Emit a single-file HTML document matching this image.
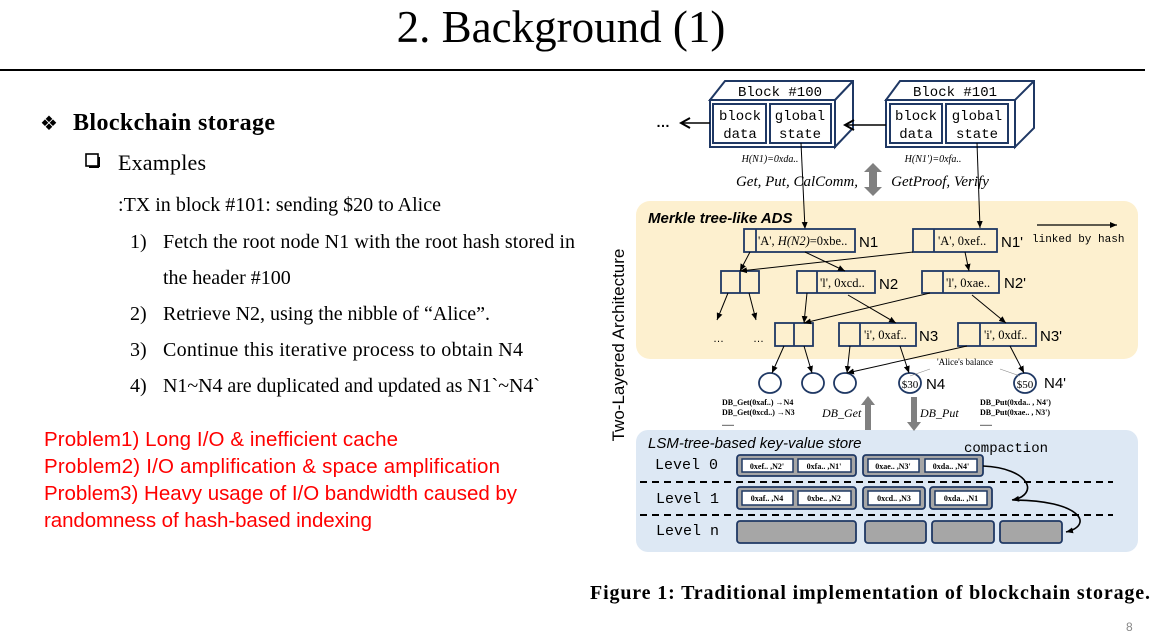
<!DOCTYPE html>
<html><head><meta charset="utf-8"><style>
html,body{margin:0;padding:0;background:#fff;width:1153px;height:641px;overflow:hidden}
svg{display:block}
.s{font-family:"Liberation Serif",serif}
.m{font-family:"Liberation Mono","DejaVu Sans Mono",monospace}
.a{font-family:"Liberation Sans","DejaVu Sans",sans-serif}
</style></head><body>
<svg width="1153" height="641" viewBox="0 0 1153 641" xmlns="http://www.w3.org/2000/svg">
<defs>
<marker id="ah" markerWidth="8" markerHeight="8" refX="7" refY="4" orient="auto" markerUnits="userSpaceOnUse"><path d="M0,1 L7,4 L0,7 z" fill="#000"/></marker>
<marker id="ao" markerWidth="12" markerHeight="12" refX="10" refY="6" orient="auto" markerUnits="userSpaceOnUse"><path d="M1,1 L10,6 L1,11" fill="none" stroke="#000" stroke-width="2"/></marker>
</defs>
<!-- title -->
<text x="561" y="42" class="s" font-size="45" text-anchor="middle">2. Background (1)</text>
<line x1="0" y1="70" x2="1145" y2="70" stroke="#000" stroke-width="2"/>
<!-- left text -->
<text x="40" y="130" class="s" font-size="20">❖</text>
<text x="73" y="130" class="s" font-size="24" font-weight="bold" textLength="202">Blockchain storage</text>
<rect x="86" y="154" width="12" height="12" fill="none" stroke="#000" stroke-width="1.6"/><line x1="89" y1="167" x2="99" y2="167" stroke="#000" stroke-width="2"/><line x1="99" y1="157" x2="99" y2="167" stroke="#000" stroke-width="2"/>
<text x="118" y="170" class="s" font-size="22" textLength="88">Examples</text>
<text x="118" y="211" class="s" font-size="20" textLength="323">:TX in block #101: sending $20 to Alice</text>
<g class="s" font-size="20">
<text x="130" y="248">1)</text><text x="163" y="248" textLength="412">Fetch the root node N1 with the  root hash stored in</text>
<text x="163" y="284">the header #100</text>
<text x="130" y="320">2)</text><text x="163" y="320" textLength="327">Retrieve N2, using the nibble of “Alice”.</text>
<text x="130" y="356">3)</text><text x="163" y="356" textLength="360">Continue this iterative process to obtain N4</text>
<text x="130" y="392">4)</text><text x="163" y="392" textLength="377">N1~N4 are duplicated and updated as N1`~N4`</text>
</g>
<g class="a" font-size="20.5" fill="#f00">
<text x="44" y="446" textLength="354">Problem1) Long I/O &amp; inefficient cache</text>
<text x="44" y="473" textLength="456">Problem2) I/O amplification &amp; space amplification</text>
<text x="44" y="500" textLength="473">Problem3) Heavy usage of I/O bandwidth caused by</text>
<text x="44" y="527" textLength="328">randomness of hash-based indexing</text>
</g>
<text x="590" y="599" class="s" font-size="20" font-weight="bold" textLength="560">Figure 1: Traditional implementation of blockchain storage.</text>
<text x="1126" y="631" class="a" font-size="12" fill="#888">8</text>

<!-- diagram backgrounds -->
<rect x="636" y="201" width="502" height="158" rx="14" fill="#fdf0cf"/>
<rect x="636" y="430" width="502" height="122" rx="12" fill="#dde8f4"/>
<text x="624" y="345" class="a" font-size="17" transform="rotate(-90 624 345)" text-anchor="middle">Two-Layered Architecture</text>

<!-- blocks -->
<g fill="#fff" stroke="#1f3864" stroke-width="2">
<path d="M710,100 L725,81 L853,81 L853,128 L835,147 L835,100 Z"/><line x1="835" y1="100" x2="853" y2="81"/>
<rect x="710" y="100" width="125" height="47"/>
<path d="M886,100 L900,81 L1034,81 L1034,128 L1015,147 L1015,100 Z"/><line x1="1015" y1="100" x2="1034" y2="81"/>
<rect x="886" y="100" width="129" height="47"/>
<rect x="713" y="104" width="53" height="39"/><rect x="770" y="104" width="61" height="39"/>
<rect x="890" y="104" width="52" height="39"/><rect x="946" y="104" width="62" height="39"/>
</g>
<g class="m" font-size="14" text-anchor="middle">
<text x="780" y="96">Block #100</text><text x="955" y="96">Block #101</text>
<text x="740" y="120">block</text><text x="740" y="138">data</text>
<text x="800" y="120">global</text><text x="800" y="138">state</text>
<text x="916" y="120">block</text><text x="916" y="138">data</text>
<text x="977" y="120">global</text><text x="977" y="138">state</text>
</g>
<text x="656" y="127" font-size="14" class="a" font-weight="bold">…</text>
<line x1="710" y1="123" x2="681" y2="123" stroke="#000" stroke-width="1.5" marker-end="url(#ao)"/>
<line x1="886" y1="125" x2="845" y2="125" stroke="#000" stroke-width="1.5" marker-end="url(#ao)"/>
<text x="770" y="162" class="s" font-size="10" font-style="italic" text-anchor="middle">H(N1)=0xda..</text>
<text x="933" y="162" class="s" font-size="10" font-style="italic" text-anchor="middle">H(N1')=0xfa..</text>
<text x="797" y="186" class="s" font-size="15" font-style="italic" text-anchor="middle">Get, Put, CalComm,</text>
<text x="940" y="186" class="s" font-size="15" font-style="italic" text-anchor="middle">GetProof, Verify</text>
<path d="M873,163 L882,172 L877,172 L877,187 L882,187 L873,196 L864,187 L869,187 L869,172 L864,172 Z" fill="#808080"/>
<g stroke="#000" stroke-width="1" fill="none" marker-end="url(#ah)">
<line x1="801" y1="143" x2="805" y2="229"/>
<line x1="977" y1="143" x2="980" y2="228"/>
</g>
<text x="648" y="223" class="a" font-size="15" font-style="italic" font-weight="bold">Merkle tree-like ADS</text>

<!-- nodes -->
<g fill="none" stroke="#1f3864" stroke-width="1.8">
<rect x="744" y="229" width="111" height="23"/><line x1="756" y1="229" x2="756" y2="252"/>
<rect x="913" y="229" width="84" height="23"/><line x1="934" y1="229" x2="934" y2="252"/>
<rect x="721" y="271" width="38" height="22"/><line x1="740" y1="271" x2="740" y2="293"/>
<rect x="797" y="271" width="78" height="22"/><line x1="817" y1="271" x2="817" y2="293"/>
<rect x="922" y="271" width="77" height="22"/><line x1="943" y1="271" x2="943" y2="293"/>
<rect x="775" y="323" width="38" height="23"/><line x1="794" y1="323" x2="794" y2="346"/>
<rect x="839" y="323" width="77" height="23"/><line x1="860" y1="323" x2="860" y2="346"/>
<rect x="958" y="323" width="78" height="23"/><line x1="980" y1="323" x2="980" y2="346"/>
<ellipse cx="770" cy="383" rx="11" ry="10"/><ellipse cx="813" cy="383" rx="11" ry="10"/><ellipse cx="845" cy="383" rx="11" ry="10"/>
<ellipse cx="910" cy="383" rx="11" ry="10"/><ellipse cx="1025" cy="383" rx="11" ry="10"/>
</g>
<g class="s" font-size="12.5">
<text x="758" y="245">'A', <tspan font-style="italic">H(N2)</tspan>=0xbe..</text>
<text x="938" y="245">'A', 0xef..</text>
<text x="820" y="287">'l', 0xcd..</text>
<text x="946" y="287">'l', 0xae..</text>
<text x="864" y="339">'i', 0xaf..</text>
<text x="984" y="339">'i', 0xdf..</text>
<text x="910" y="388" font-size="11" text-anchor="middle">$30</text>
<text x="1025" y="388" font-size="11" text-anchor="middle">$50</text>
<text x="965" y="365" font-size="9" text-anchor="middle">'Alice's balance</text>
</g>
<g class="a" font-size="15">
<text x="859" y="247">N1</text><text x="1001" y="247">N1'</text>
<text x="879" y="289">N2</text><text x="1004" y="288">N2'</text>
<text x="919" y="341">N3</text><text x="1040" y="341">N3'</text>
<text x="926" y="389">N4</text><text x="1044" y="388">N4'</text>
</g>
<text x="1032" y="242" class="m" font-size="11">linked by hash</text>
<line x1="1037" y1="225" x2="1117" y2="225" stroke="#000" stroke-width="1.2" marker-end="url(#ah)"/>
<text x="713" y="342" font-size="11" class="a">…</text><text x="753" y="342" font-size="11" class="a">…</text>
<line x1="930" y1="369" x2="910" y2="376" stroke="#888" stroke-width="0.6"/>
<line x1="1000" y1="369" x2="1020" y2="376" stroke="#888" stroke-width="0.6"/>
<g stroke="#000" stroke-width="1" fill="none" marker-end="url(#ah)">
<line x1="750" y1="252" x2="740" y2="271"/>
<line x1="805" y1="252" x2="845" y2="271"/>
<line x1="913" y1="252" x2="740" y2="271"/>
<line x1="965" y1="252" x2="969" y2="271"/>
<line x1="728" y1="293" x2="717" y2="320"/>
<line x1="749" y1="293" x2="756" y2="320"/>
<line x1="807" y1="293" x2="804" y2="323"/>
<line x1="848" y1="295" x2="896" y2="323"/>
<line x1="930" y1="293" x2="804" y2="323"/>
<line x1="972" y1="295" x2="1006" y2="323"/>
<line x1="784" y1="346" x2="772" y2="373"/>
<line x1="804" y1="346" x2="812" y2="373"/>
<line x1="850" y1="346" x2="847" y2="373"/>
<line x1="900" y1="346" x2="909" y2="373"/>
<line x1="967" y1="346" x2="847" y2="373"/>
<line x1="1010" y1="346" x2="1024" y2="373"/>
</g>

<!-- middle ops -->
<g class="s" font-size="8" font-weight="bold">
<text x="722" y="405">DB_Get(0xaf..) →N4</text>
<text x="722" y="415">DB_Get(0xcd..) →N3</text>
<text x="722" y="426">......</text>
<text x="980" y="405">DB_Put(0xda.. , N4')</text>
<text x="980" y="415">DB_Put(0xae.. , N3')</text>
<text x="980" y="426">......</text>
</g>
<text x="822" y="417" class="s" font-size="12" font-style="italic">DB_Get</text>
<text x="920" y="417" class="s" font-size="12" font-style="italic">DB_Put</text>
<path d="M868,396 L875,405 L871,405 L871,430 L865,430 L865,405 L861,405 Z" fill="#808080"/>
<path d="M914,431 L921,422 L917,422 L917,397 L911,397 L911,422 L907,422 Z" fill="#808080"/>

<!-- LSM -->
<text x="648" y="448" class="a" font-size="15" font-style="italic">LSM-tree-based key-value store</text>
<text x="964" y="452" class="m" font-size="14">compaction</text>
<g class="m" font-size="15">
<text x="655" y="469">Level 0</text><text x="656" y="503">Level 1</text><text x="656" y="535">Level n</text>
</g>
<g stroke="#000" stroke-width="2" stroke-dasharray="7,5"><line x1="640" y1="482" x2="1113" y2="482"/><line x1="640" y1="515" x2="1113" y2="515"/></g>
<g fill="#a6a6a6" stroke="#1f3864" stroke-width="1.8">
<rect x="737" y="455" width="119" height="21" rx="3"/><rect x="863" y="455" width="120" height="21" rx="3"/>
<rect x="737" y="487" width="119" height="22" rx="3"/><rect x="863" y="487" width="62" height="22" rx="3"/><rect x="930" y="487" width="62" height="22" rx="3"/>
<rect x="737" y="521" width="119" height="22" rx="3"/><rect x="865" y="521" width="61" height="22" rx="3"/><rect x="932" y="521" width="62" height="22" rx="3"/><rect x="1000" y="521" width="62" height="22" rx="3"/>
</g>
<g fill="#fff" stroke="#1f3864" stroke-width="1.5">
<rect x="742" y="459" width="51" height="13"/><rect x="798" y="459" width="53" height="13"/>
<rect x="868" y="459" width="51" height="13"/><rect x="925" y="459" width="52" height="13"/>
<rect x="742" y="491" width="51" height="14"/><rect x="798" y="491" width="53" height="14"/>
<rect x="868" y="491" width="52" height="14"/><rect x="935" y="491" width="52" height="14"/>
</g>
<g class="s" font-size="8" font-weight="bold" text-anchor="middle">
<text x="767" y="469">0xef.. ,N2'</text><text x="824" y="469">0xfa.. ,N1'</text>
<text x="893" y="469">0xae.. ,N3'</text><text x="951" y="469">0xda.. ,N4'</text>
<text x="767" y="501">0xaf.. ,N4</text><text x="824" y="501">0xbe.. ,N2</text>
<text x="894" y="501">0xcd.. ,N3</text><text x="961" y="501">0xda.. ,N1</text>
</g>
<g stroke="#000" stroke-width="1.6" fill="none" marker-end="url(#ah)">
<path d="M983,466 C1030,468 1040,495 1012,500"/>
<path d="M1013,500 C1080,500 1095,525 1066,532"/>
</g>
</svg>
</body></html>
